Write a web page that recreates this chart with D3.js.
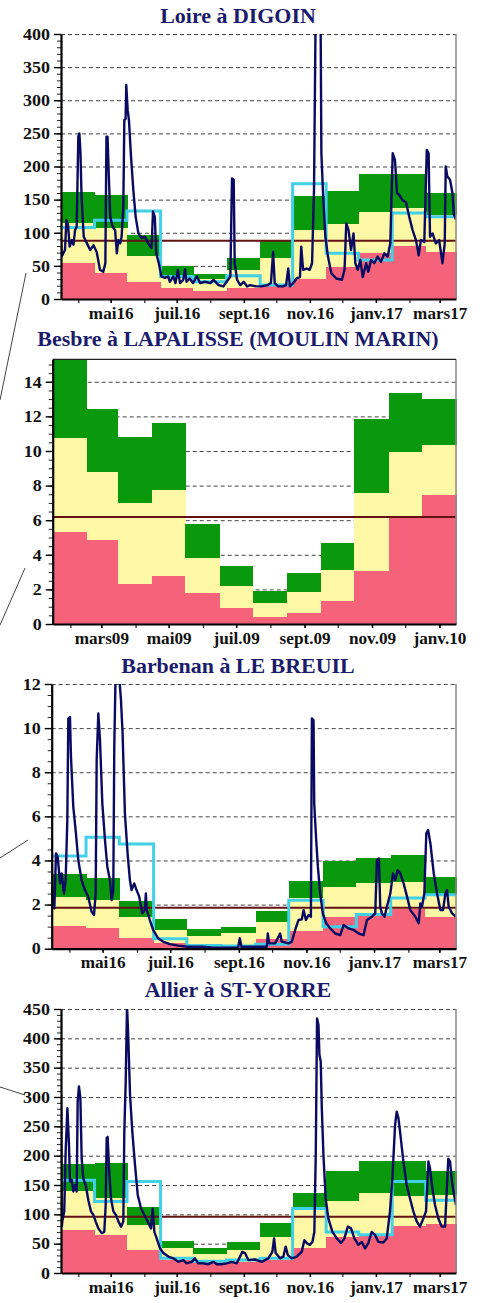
<!DOCTYPE html>
<html>
<head>
<meta charset="utf-8">
<script src="https://cdn.jsdelivr.net/npm/d3@7"></script>
<style>
body{margin:0;background:#fff}
svg{display:block}
</style>
</head>
<body>
<svg width="483" height="1303"></svg>
<script>
// ---- data ----
// band tops per month: q1 = red top, q2 = yellow top, q3 = green top
var loireQ1 = [55, 40, 25, 16, 12, 16, 19, 30, 49, 70, 80, 71];
var loireQ2 = [114, 107, 65, 34, 30, 44, 62, 104, 113, 132, 137, 127];
var loireQ3 = [161, 157, 97, 50, 37, 62, 87, 155, 163, 189, 189, 160];
var loireMonthly = [108, 119, 133, 34, 26, 35, 21, 174, 69, 59, 130, 124];
var loireThreshold = 88;
var loireDays = [0,0.6,3.7,5,6.5,8,10,11.5,13,14.5,16,17,18,19,21,24,27,30,33,36,39,41,42,43,44,45.5,47.7,50,51.6,53,54.7,56,57.6,58.5,59.7,60.3,61.6,62.8,64.7,66.8,69,71.5,74.5,77.6,80.6,83.7,85,86.7,88,90.4,92.8,96,99,100.6,103.7,105.8,108,110,113,114.6,116,119,122,125.6,128.6,133,138,141,145.6,150,153,156.5,158,159.6,160.5,162.7,165.7,168.8,172,175,180,185,191,194,196,197.5,200.6,205,208,210,211.5,214.6,217.7,220.8,222,223.7,226.8,229.8,232,233.8,235.4,237.5,239.8,240.6,242,244.3,246.7,249.8,254.4,259.6,262,263.6,265.7,268,270.3,272,274.2,276.6,278.8,282,284,286.5,289.5,292.6,295.7,298.8,301.8,304.3,306.5,308.6,310.5,312.6,315.7,318.8,321.8,324.9,328,330.5,332.6,335.7,338,339.7,341,343.3,346.4,349.4,352.5,354.6,355.5,357,359.5,361.7,363,365];
var loireFlow = [95,64,74,119,112,79,89,82,104,109,245,250,220,154,94,84,74,81,71,44,41,54,245,245,195,124,109,104,69,89,84,94,139,270,272,323,285,270,215,165,124,99,92,94,84,77,132,124,69,54,34,32,34,26,34,24,44,24,29,45,26,31,24,34,24,26,24,29,21,19,26,34,182,180,54,29,21,26,19,21,19,19,21,24,71,24,19,19,21,46,19,24,31,33,79,44,46,44,54,165,450,520,450,220,165,94,64,39,31,29,44,114,104,74,99,54,44,59,33,54,41,59,54,64,56,69,64,84,220,210,160,157,149,146,124,104,89,66,89,86,225,220,94,99,84,89,54,84,200,185,180,160,128,120];

var besbreQ1 = [5.31, 4.87, 2.32, 2.78, 1.78, 0.95, 0.42, 0.62, 1.33, 3.09, 6.22, 7.47];
var besbreQ2 = [10.75, 8.79, 6.99, 7.76, 3.80, 2.2, 1.24, 1.87, 3.13, 7.57, 9.92, 10.37];
var besbreQ3 = [15.29, 12.43, 10.79, 11.62, 5.79, 3.38, 1.91, 2.97, 4.71, 11.86, 13.36, 13.03];
var besbreThreshold = 6.18;

var barbQ1 = [1.03, 0.92, 0.47, 0.24, 0.1, 0.1, 0.42, 0.82, 1.42, 1.6, 1.78, 1.42];
var barbQ2 = [2.36, 2.2, 1.45, 0.85, 0.57, 0.7, 1.19, 2.28, 2.78, 2.96, 3.04, 2.5];
var barbQ3 = [3.37, 3.19, 2.18, 1.33, 0.88, 1.0, 1.71, 3.07, 3.97, 4.09, 4.24, 3.26];
var barbMonthly = [4.2, 5.05, 4.75, 0.45, 0.15, 0.12, 0.2, 2.2, 1.0, 1.55, 2.3, 2.45];
var barbThreshold = 1.86;
var barbDays = [0,0.6,2.4,3.9,5.4,7.5,9,11.1,12.6,14.1,15,16.5,17.4,19.5,21.6,24,27,30,33,36,38.2,39.7,40.6,42.1,43.6,45.7,48.1,50.2,52.6,54.1,55.6,56.5,57.7,60.7,62.5,64,66.1,68.5,70.6,72.1,74.5,76.6,79,81.7,84.1,85,85.9,88.6,91.6,96.1,100.6,106.6,114.1,123.1,135.2,144.2,156.2,168.3,169.8,171.3,181.8,188.2,194.2,195.1,196.3,201.7,206.2,207.7,213.8,216.8,219.8,222.8,225.8,227.4,229.5,231.9,234,234.9,236.4,237,238.8,240.3,242.4,244.8,247.8,251.5,256,260.5,263.5,268,272.5,277.1,281.6,284.6,289.1,292.1,293.6,295.4,296.6,298.1,300.5,302.6,305.7,308.1,310.2,312.3,314.7,317.7,320.8,323.8,328.3,331.3,332.8,334.3,336.4,338.2,339.8,341.9,344.9,347.9,350.9,353.3,355.4,356.9,358.4,361.5,365];
var barbFlow = [4.9,1.9,1.83,4.32,4.17,2.96,3.41,2.5,3.11,5.83,10.44,10.5,8.7,6.43,5.38,4.02,3.11,2.66,2.36,1.68,1.53,2.5,8.55,10.66,9.46,6.59,4.92,3.72,3.11,2.2,2.66,9.15,12.5,12.5,11.3,9.76,6.13,4.32,3.11,2.66,2.96,2.66,2.36,1.6,1.75,2.5,1.75,1.3,0.85,0.47,0.32,0.21,0.14,0.09,0.09,0.06,0.05,0.05,0.47,0.09,0.09,0.09,0.09,0.69,0.24,0.24,0.69,0.32,0.24,0.32,0.85,1.3,1.33,1.75,1.3,1.53,1.45,10.44,10.36,6.59,4.92,3.72,2.5,1.6,1.15,0.92,0.69,0.62,1.07,0.92,0.85,0.69,0.62,1.3,1.45,1.6,4.02,4.09,1.9,1.6,1.45,1.9,2.5,3.41,3.11,3.56,3.41,2.96,2.36,1.75,1.45,1.15,2.05,1.9,2.5,5.23,5.38,4.77,3.41,2.5,1.75,1.75,2.5,2.66,1.9,1.6,1.45];

var allierQ1 = [74, 65, 40, 22, 19, 19, 22, 42, 62, 66, 80, 84];
var allierQ2 = [139, 128, 82, 43, 32, 39, 62, 113, 123, 136, 131, 133];
var allierQ3 = [186, 187, 112, 55, 42, 52, 85, 136, 174, 191, 191, 174];
var allierMonthly = [158, 122, 156, 25, 20, 22, 25, 110, 70, 65, 156, 124];
var allierThreshold = 96;
var allierDays = [0,0.8,1.2,3,4.3,5.9,7.4,8.3,9.9,11.4,13,14.5,15.4,16.6,17.9,19.1,20.6,22.8,25.3,27.7,29.9,32,34.5,37.6,40,41.3,42.2,43.1,44.4,46.2,48.4,50.8,53,55.5,57.6,58.5,59.8,61,62.2,63.8,65.9,68.4,70.9,74,77,80.1,83.2,84.7,86.3,88.4,91.5,94.6,99.2,103.8,108.4,113.1,116.1,120.8,123.8,126.9,131.5,136.2,140.8,143.9,148.5,153.1,157.7,162.4,167.6,170,173.1,179.3,185.5,191.6,195.3,196.9,198.4,202.4,205.5,207.6,209.5,213.2,217.8,222.4,224.9,227,230.1,232.3,234.1,235.4,236.6,237.9,238.8,240,241,242.5,244.6,247,250.8,254.8,258.8,261.9,265,268,271.1,274.8,277.9,281,284,287.1,290.2,293.3,297.9,301,304,306.2,308.7,310.2,311.8,313.3,316.4,319.4,322.5,325.6,328.7,331.7,334.8,337.3,339.5,341,343.2,345.6,348.7,351.8,354.9,356.4,357.9,359.5,361.6,365];
var allierFlow = [305,80,88,105,207,281,218,156,159,139,150,139,292,318,298,195,161,150,124,105,99,88,76,68,70,116,230,232,178,127,105,99,88,79,88,241,326,455,400,303,241,184,133,110,99,88,76,110,70,59,42,34,28,25,19,22,16.5,19,25,16.5,16.5,15,19,15,15,16.5,19,16.5,36,34,22,23,19,25,36,59,34,25,28,45,31,25,28,36,56,51,48,53,70,201,434,423,372,360,281,201,127,93,70,59,51,59,79,76,59,48,53,42,51,70,65,53,52,59,105,161,252,275,264,241,190,150,127,105,88,79,93,105,190,178,144,116,93,79,79,139,195,190,150,116];

var labels16 = ["mai16", "juil.16", "sept.16", "nov.16", "janv.17", "mars17"];
var labelDates16 = ["2016-05-01", "2016-07-01", "2016-09-01", "2016-11-01", "2017-01-01", "2017-03-01"];
var labels09 = ["mars09", "mai09", "juil.09", "sept.09", "nov.09", "janv.10"];
var labelDates09 = ["2009-03-01", "2009-05-01", "2009-07-01", "2009-09-01", "2009-11-01", "2010-01-01"];

// leftover pointer lines from the cropped map
var callouts = [[26, 273, 0, 400], [25, 568, 0, 625], [28, 840, 0, 858], [0, 1087, 25, 1095]];

var pink = "#f5637a", yellow = "#fcf8a6", green = "#0a990c",
    cyan = "#42d0e6", navy = "#0a0a62", darkred = "#621212", titleBlue = "#1b1b6b";
var serif = "'Liberation Serif','Times New Roman',serif";
var parse = d3.timeParse("%Y-%m-%d");
var svg = d3.select("svg");

var panels = [
  {id: "p1", title: "Loire à DIGOIN", titleY: 22.5, left: 61, top: 34, bottom: 299, ymax: 400, step: 50, minor: 10,
   start: "2016-03-16", q1: loireQ1, q2: loireQ2, q3: loireQ3, monthly: loireMonthly, threshold: loireThreshold,
   days: loireDays, flow: loireFlow, labels: labels16, labelDates: labelDates16},
  {id: "p2", title: "Besbre à LAPALISSE (MOULIN MARIN)", titleY: 346, left: 52.7, top: 359.3, bottom: 624, ymax: 15.3, step: 2, minor: 0.5,
   start: "2009-01-16", q1: besbreQ1, q2: besbreQ2, q3: besbreQ3, monthly: null, threshold: besbreThreshold,
   days: null, flow: null, labels: labels09, labelDates: labelDates09},
  {id: "p3", title: "Barbenan à LE BREUIL", titleY: 672.5, left: 51.7, top: 684, bottom: 948.7, ymax: 12, step: 2, minor: 0.5,
   start: "2016-03-16", q1: barbQ1, q2: barbQ2, q3: barbQ3, monthly: barbMonthly, threshold: barbThreshold,
   days: barbDays, flow: barbFlow, labels: labels16, labelDates: labelDates16},
  {id: "p4", title: "Allier à ST-YORRE", titleY: 997, left: 61, top: 1009, bottom: 1273, ymax: 450, step: 50, minor: 10,
   start: "2016-03-16", q1: allierQ1, q2: allierQ2, q3: allierQ3, monthly: allierMonthly, threshold: allierThreshold,
   days: allierDays, flow: allierFlow, labels: labels16, labelDates: labelDates16}
];

var right = 456;

svg.append("g").selectAll("line")
  .data(callouts)
  .enter().append("line")
  .attr("x1", function(d){ return d[0]; }).attr("y1", function(d){ return d[1]; })
  .attr("x2", function(d){ return d[2]; }).attr("y2", function(d){ return d[3]; })
  .attr("stroke", "#444").attr("stroke-width", 1);

panels.forEach(drawPanel);

function drawPanel(p) {
  var start = parse(p.start),
      end = d3.timeMonth.offset(start, 12);
  var x = d3.scaleTime().domain([start, end]).range([p.left, right]);
  var y = d3.scaleLinear().domain([0, p.ymax]).range([p.bottom, p.top]);
  var w = right - p.left;
  var g = svg.append("g");

  var major = d3.range(p.step, p.ymax + 1e-9, p.step);
  var minor = d3.range(0, p.ymax + 1e-9, p.minor);

  // dashed grid
  g.append("g")
    .attr("transform", "translate(" + p.left + ",0)")
    .call(d3.axisLeft(y).tickValues(major).tickSize(-w).tickFormat(""))
    .call(function(s){ s.select(".domain").remove(); })
    .selectAll("line")
    .attr("stroke", "#444").attr("stroke-dasharray", "4,3");

  // monthly bands
  var months = d3.range(12).map(function(i){ return d3.timeMonth.offset(start, i); });
  var segs = [];
  months.forEach(function(m, i) {
    segs.push({m: m, lo: 0, hi: p.q1[i], c: pink});
    segs.push({m: m, lo: p.q1[i], hi: p.q2[i], c: yellow});
    segs.push({m: m, lo: p.q2[i], hi: p.q3[i], c: green});
  });
  g.append("g").selectAll("rect")
    .data(segs)
    .enter().append("rect")
    .attr("x", function(d){ return x(d.m); })
    .attr("width", function(d){ return x(d3.timeMonth.offset(d.m, 1)) - x(d.m) + 0.5; })
    .attr("y", function(d){ return y(d.hi); })
    .attr("height", function(d){ return y(d.lo) - y(d.hi); })
    .attr("fill", function(d){ return d.c; })
    .attr("shape-rendering", "crispEdges");

  // threshold
  g.append("line")
    .attr("x1", p.left).attr("x2", right)
    .attr("y1", y(p.threshold)).attr("y2", y(p.threshold))
    .attr("stroke", darkred).attr("stroke-width", 2);

  g.append("clipPath").attr("id", "clip-" + p.id)
    .append("rect").attr("x", p.left).attr("y", p.top).attr("width", w).attr("height", p.bottom - p.top);

  if (p.monthly) {
    var steps = months.map(function(m, i){ return [m, p.monthly[i]]; });
    steps.push([end, p.monthly[11]]);
    g.append("path")
      .datum(steps)
      .attr("fill", "none")
      .attr("stroke", cyan)
      .attr("stroke-width", 3)
      .attr("d", d3.line().curve(d3.curveStepAfter)
        .x(function(d){ return x(d[0]); })
        .y(function(d){ return y(d[1]); }));
  }

  if (p.flow) {
    var pts = p.days.map(function(d, i){ return [new Date(start.getTime() + d * 864e5), p.flow[i]]; });
    g.append("path")
      .datum(pts)
      .attr("clip-path", "url(#clip-" + p.id + ")")
      .attr("fill", "none")
      .attr("stroke", navy)
      .attr("stroke-width", 2.4)
      .attr("stroke-linejoin", "round")
      .attr("d", d3.line()
        .x(function(d){ return x(d[0]); })
        .y(function(d){ return y(d[1]); }));
  }

  // frame: right side grey, solid top only when it is not a grid value
  g.append("line")
    .attr("x1", right).attr("x2", right).attr("y1", p.top).attr("y2", p.bottom)
    .attr("stroke", "#8a8a8a").attr("stroke-width", 1.5);
  if (Math.abs(p.ymax / p.step - Math.round(p.ymax / p.step)) > 1e-6) {
    g.append("line")
      .attr("x1", p.left).attr("x2", right).attr("y1", p.top).attr("y2", p.top)
      .attr("stroke", "#222").attr("stroke-width", 1.2);
  }

  // y axis
  g.append("g")
    .attr("transform", "translate(" + p.left + ",0)")
    .call(d3.axisLeft(y).tickValues(minor).tickSize(4).tickFormat(""))
    .call(function(s){ s.select(".domain").remove(); })
    .selectAll("line").attr("stroke", "#222");
  var ya = g.append("g")
    .attr("transform", "translate(" + p.left + ",0)")
    .call(d3.axisLeft(y).tickValues([0].concat(major)).tickSize(7).tickSizeOuter(0).tickPadding(4).tickFormat(d3.format("d")));
  ya.select(".domain").attr("stroke", "#000").attr("stroke-width", 2.2);
  ya.selectAll("line").attr("stroke", "#000").attr("stroke-width", 1.4);
  ya.selectAll("text")
    .attr("font-family", serif).attr("font-weight", "bold").attr("font-size", 16.5).attr("fill", "#111")
    .attr("textLength", function(d){ return String(d).length * 9; })
    .attr("lengthAdjust", "spacingAndGlyphs");

  // x axis: monthly ticks + labels every second month
  g.append("g")
    .attr("transform", "translate(0," + p.bottom + ")")
    .call(d3.axisBottom(x).ticks(d3.timeMonth.every(1)).tickSize(4).tickFormat(""))
    .call(function(s){ s.select(".domain").remove(); })
    .selectAll("line").attr("stroke", "#222").attr("stroke-width", 1.2);
  var xa = g.append("g")
    .attr("transform", "translate(0," + p.bottom + ")")
    .call(d3.axisBottom(x).tickValues(p.labelDates.map(parse)).tickSize(4).tickSizeOuter(0).tickPadding(4)
      .tickFormat(function(d, i){ return p.labels[i]; }));
  xa.select(".domain").attr("stroke", "#000").attr("stroke-width", 2.2);
  xa.selectAll("line").attr("stroke", "#000").attr("stroke-width", 1.4);
  xa.selectAll("text")
    .attr("font-family", serif).attr("font-weight", "bold").attr("font-size", 16.5).attr("fill", "#111")
    .each(function() {
      this.setAttribute("textLength", this.getComputedTextLength() * 1.04);
      this.setAttribute("lengthAdjust", "spacingAndGlyphs");
    });

  // title
  var t = svg.append("text")
    .attr("x", 238).attr("y", p.titleY)
    .attr("text-anchor", "middle")
    .attr("font-family", serif).attr("font-weight", "bold").attr("font-size", 20.5)
    .attr("fill", titleBlue)
    .text(p.title);
  t.attr("textLength", t.node().getComputedTextLength() * 1.07).attr("lengthAdjust", "spacingAndGlyphs");
}
</script>
</body>
</html>
